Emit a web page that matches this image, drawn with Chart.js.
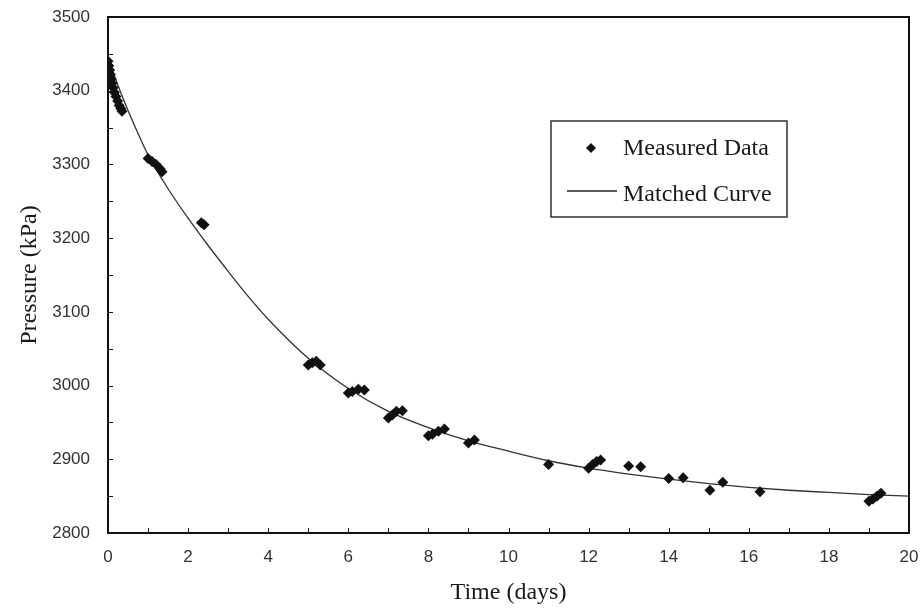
<!DOCTYPE html>
<html>
<head>
<meta charset="utf-8">
<script src="https://cdn.jsdelivr.net/npm/chart.js@4"></script>
<style>
  html, body { margin: 0; padding: 0; background: #fff; }
  #wrap { width: 921px; height: 610px; }
</style>
</head>
<body>
<div id="wrap"><canvas id="chart"></canvas></div>
<script>
// measured pressure (days, kPa)
const measuredTime = [
  0.0, 0.02, 0.04, 0.06, 0.08, 0.1, 0.13, 0.16, 0.2, 0.24, 0.28, 0.32, 0.35,
  1.0, 1.1, 1.2, 1.3, 1.35,
  2.33, 2.4,
  5.0, 5.1, 5.2, 5.3,
  6.0, 6.1, 6.25, 6.4,
  7.0, 7.1, 7.2, 7.35,
  8.0, 8.1, 8.25, 8.4,
  9.0, 9.15,
  11.0,
  12.0, 12.1, 12.2, 12.3,
  13.0, 13.3, 14.0, 14.36, 15.03, 15.35, 16.28,
  19.0, 19.1, 19.2, 19.3
];
const measuredPressure = [
  3440, 3434, 3428, 3422, 3416, 3410, 3404, 3398, 3392, 3386, 3380, 3376, 3372,
  3308, 3304, 3300, 3294, 3290,
  3221, 3218,
  3028, 3031, 3033, 3028,
  2990, 2992, 2995, 2994,
  2956, 2960, 2965, 2966,
  2932, 2934, 2938, 2941,
  2922, 2926,
  2893,
  2888, 2893, 2897, 2899,
  2891, 2890, 2874, 2875, 2858, 2869, 2856,
  2843, 2846, 2850, 2854
];

// matched curve
const curveTime = [0, 0.25, 0.5, 0.75, 1, 1.5, 2, 2.5, 3, 3.5, 4, 5, 6, 7, 8, 9, 10, 11, 12, 13, 14, 15, 16, 17, 18, 19, 20];
const curvePressure = [3445, 3407, 3373, 3342, 3313, 3267, 3227, 3190, 3155, 3121, 3090, 3037, 2996, 2965, 2943, 2925, 2911, 2898, 2888, 2880, 2873, 2867, 2862, 2858, 2855, 2852, 2850];

const xTicks = [0, 2, 4, 6, 8, 10, 12, 14, 16, 18, 20];
const yTicks = [2800, 2900, 3000, 3100, 3200, 3300, 3400, 3500];

const serif = '"Liberation Serif", "Times New Roman", serif';
const sans = '"Liberation Sans", Arial, sans-serif';

// frame, inward minor ticks and the boxed legend
const framePlugin = {
  id: 'frame',
  afterDraw(chart) {
    const { ctx, chartArea: a, scales: { x, y } } = chart;
    ctx.save();
    ctx.strokeStyle = '#111';
    ctx.lineWidth = 1;
    for (let t = 1; t < 20; t++) {
      const px = Math.round(x.getPixelForValue(t)) + 0.5;
      ctx.beginPath();
      ctx.moveTo(px, a.bottom);
      ctx.lineTo(px, a.bottom - 5);
      ctx.stroke();
    }
    for (let v = 2850; v < 3500; v += 50) {
      const py = Math.round(y.getPixelForValue(v)) + 0.5;
      ctx.beginPath();
      ctx.moveTo(a.left, py);
      ctx.lineTo(a.left + 5, py);
      ctx.stroke();
    }
    ctx.lineWidth = 2;
    ctx.strokeRect(a.left, a.top, a.right - a.left, a.bottom - a.top);

    // legend
    const lx = 551, ly = 121, lw = 236, lh = 96;
    ctx.lineWidth = 1.5;
    ctx.strokeStyle = '#333';
    ctx.strokeRect(lx, ly, lw, lh);
    ctx.fillStyle = '#111';
    ctx.beginPath();
    ctx.moveTo(591, 143);
    ctx.lineTo(596, 148);
    ctx.lineTo(591, 153);
    ctx.lineTo(586, 148);
    ctx.closePath();
    ctx.fill();
    ctx.strokeStyle = '#222';
    ctx.lineWidth = 1.3;
    ctx.beginPath();
    ctx.moveTo(567, 191);
    ctx.lineTo(617, 191);
    ctx.stroke();
    ctx.font = '24px ' + serif;
    ctx.textBaseline = 'alphabetic';
    ctx.fillStyle = '#1a1a1a';
    ctx.fillText(chart.data.datasets[0].label, 623, 155);
    ctx.fillText(chart.data.datasets[1].label, 623, 201);
    ctx.restore();
  }
};

const ctx = document.getElementById('chart').getContext('2d');

new Chart(ctx, {
  type: 'scatter',
  data: {
    datasets: [
      {
        label: 'Measured Data',
        data: measuredTime.map((t, i) => ({ x: t, y: measuredPressure[i] })),
        pointStyle: 'rectRot',
        pointRadius: 5.5,
        backgroundColor: '#111',
        borderColor: '#111',
        borderWidth: 0,
        showLine: false,
        order: 1,
      },
      {
        label: 'Matched Curve',
        data: curveTime.map((t, i) => ({ x: t, y: curvePressure[i] })),
        showLine: true,
        pointRadius: 0,
        borderColor: '#333',
        borderWidth: 1.3,
        cubicInterpolationMode: 'monotone',
        fill: false,
        order: 2,
      },
    ],
  },
  options: {
    responsive: true,
    maintainAspectRatio: false,
    animation: false,
    layout: { padding: { top: 17, right: 12, left: 0, bottom: 0 } },
    plugins: {
      legend: { display: false },
      tooltip: { enabled: false },
    },
    scales: {
      x: {
        type: 'linear',
        min: 0,
        max: 20,
        afterBuildTicks: (scale) => { scale.ticks = xTicks.map((v) => ({ value: v })); },
        afterFit: (scale) => {
          scale.height = 77;
          scale.paddingLeft = 0;
          scale.paddingRight = 0;
        },
        grid: { display: false, drawTicks: false },
        border: { display: false },
        ticks: {
          padding: 14,
          color: '#333',
          font: { family: sans, size: 17 },
          maxRotation: 0,
          callback: (v) => String(v),
        },
        title: {
          display: true,
          text: 'Time (days)',
          color: '#1a1a1a',
          font: { family: serif, size: 24 },
          padding: { top: 0, bottom: 3 },
        },
      },
      y: {
        type: 'linear',
        min: 2800,
        max: 3500,
        afterBuildTicks: (scale) => { scale.ticks = yTicks.map((v) => ({ value: v })); },
        afterFit: (scale) => {
          scale.width = 108;
          scale.paddingTop = 0;
          scale.paddingBottom = 0;
        },
        grid: { display: false, drawTicks: false },
        border: { display: false },
        ticks: {
          padding: 18,
          color: '#333',
          font: { family: sans, size: 17 },
          callback: (v) => String(v),
        },
        title: {
          display: true,
          text: 'Pressure (kPa)',
          color: '#1a1a1a',
          font: { family: serif, size: 24 },
          padding: { top: 15, bottom: 0 },
        },
      },
    },
  },
  plugins: [framePlugin],
});
</script>
</body>
</html>
